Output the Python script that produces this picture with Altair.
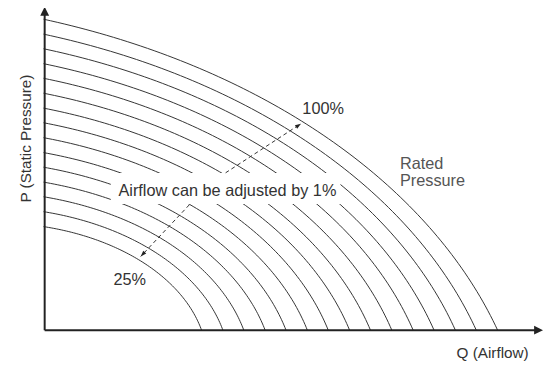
import altair as alt
import numpy as np
import pandas as pd

# ---- values ----
# Q: airflow in % of rated airflow, P: static pressure in % of rated pressure
q_intercepts = [34.8, 39.5, 44.1, 48.8, 53.4, 58.1, 62.7, 67.4, 72.0, 76.7, 81.4, 86.0, 90.7, 95.3, 100.0]
p_intercepts = [33.3, 38.1, 42.9, 47.6, 52.4, 57.1, 61.9, 66.7, 71.4, 76.2, 81.0, 85.7, 90.5, 95.2, 100.0]
# bulge of each curve (offset of the arc centre in normalised units), inner -> outer
bulge = [0.310, 0.321, 0.332, 0.344, 0.355, 0.366, 0.377, 0.389, 0.400, 0.411, 0.422, 0.433, 0.445, 0.456, 0.467]

# dashed arrows (start Q, start P, end Q, end P)
arrow_q0 = [40.1, 32.1]
arrow_p0 = [50.6, 40.3]
arrow_q1 = [56.7, 21.4]
arrow_p1 = [66.4, 23.7]

# white label box behind the centre text
box_q = [14.8, 65.4]
box_p = [40.6, 50.5]

label_text = ["100%", "25%", "Airflow can be adjusted by 1%"]
label_q = [57.0, 15.4, 16.5]
label_p = [69.4, 14.4, 43.0]

rated_text = ["Rated\nPressure"]
rated_q = [78.5]
rated_p = [51.7]

X_MAX, Y_MAX = 110.0, 102.857
W, H = 506, 324
PX_Q, PX_P = W / X_MAX, H / Y_MAX
FONT = "Liberation Sans"

# ---- build curve table ----
rows = []
for i, (q0, p0, c) in enumerate(zip(q_intercepts, p_intercepts, bulge)):
    r = np.sqrt(c ** 2 + (1 + c) ** 2)
    t0, t1 = np.arctan2(c, 1 + c), np.arctan2(1 + c, c)
    for k, t in enumerate(np.linspace(t0, t1, 90)):
        rows.append({"curve": i, "k": k,
                     "Q": (-c + r * np.cos(t)) * q0,
                     "P": (-c + r * np.sin(t)) * p0})
curves_df = pd.DataFrame(rows)

xs = alt.Scale(domain=[0, X_MAX], nice=False, zero=False)
ys = alt.Scale(domain=[0, Y_MAX], nice=False, zero=False)
x_axis = alt.Axis(title="Q (Airflow)", domain=False, ticks=False, labels=False, grid=False,
                  titleFont=FONT, titleFontSize=15.5, titleFontWeight="normal", titleColor="#333333",
                  titleX=491, titleY=28, titleAlign="right", titleBaseline="alphabetic")
y_axis = alt.Axis(title="P (Static Pressure)", domain=False, ticks=False, labels=False, grid=False,
                  titleFont=FONT, titleFontSize=15.5, titleFontWeight="normal", titleColor="#333333",
                  titleX=-13.5, titleY=129.5, titleAngle=270, titleAlign="center",
                  titleBaseline="alphabetic")


def X(field="Q"):
    return alt.X(f"{field}:Q", scale=xs, axis=x_axis)


def Y(field="P"):
    return alt.Y(f"{field}:Q", scale=ys, axis=y_axis)


curves = alt.Chart(curves_df).mark_line(color="#333333", strokeWidth=1).encode(
    x=X(), y=Y(), detail="curve:N", order="k:Q")

box_df = pd.DataFrame({"Q": [box_q[0]], "Q2": [box_q[1]], "P": [box_p[0]], "P2": [box_p[1]]})
box = alt.Chart(box_df).mark_rect(color="white").encode(
    x=X(), x2="Q2:Q", y=Y(), y2="P2:Q")

dash_df = pd.DataFrame({"Q": arrow_q0, "P": arrow_p0, "Q2": arrow_q1, "P2": arrow_p1})
dashes = alt.Chart(dash_df).mark_rule(color="#333333", strokeWidth=1, strokeDash=[4, 3]).encode(
    x=X(), y=Y(), x2="Q2:Q", y2="P2:Q")

head_ang = []
for q0, p0, q1, p1 in zip(arrow_q0, arrow_p0, arrow_q1, arrow_p1):
    dx = (q1 - q0) * PX_Q
    dy = -(p1 - p0) * PX_P
    head_ang.append(float(np.degrees(np.arctan2(dx, -dy)) % 360))
head_df = pd.DataFrame({"Q": arrow_q1, "P": arrow_p1, "ang": head_ang})
heads = alt.Chart(head_df).mark_point(shape="M0,0L0.7,2L-0.7,2Z", filled=True, size=36,
                                      color="#222222", opacity=1, strokeWidth=0).encode(
    x=X(), y=Y(), angle=alt.Angle("ang:Q", scale=None))

# axes with arrows
axis_df = pd.DataFrame({"Q": [0.25, 0.25], "P": [0.0, 0.0], "Q2": [0.25, 108.5], "P2": [101.5, 0.0]})
axis_lines = alt.Chart(axis_df).mark_rule(color="#222222", strokeWidth=2).encode(
    x=X(), y=Y(), x2="Q2:Q", y2="P2:Q")
axis_head_df = pd.DataFrame({"Q": [0.25, X_MAX], "P": [104.0, 0.0], "ang": [0.0, 90.0]})
axis_heads = alt.Chart(axis_head_df).mark_point(shape="M0,0L1,2L-1,2Z", filled=True, size=81,
                                                color="#222222", opacity=1, strokeWidth=0).encode(
    x=X(), y=Y(), angle=alt.Angle("ang:Q", scale=None))

labels_df = pd.DataFrame({"Q": label_q, "P": label_p, "text": label_text})
labels = alt.Chart(labels_df).mark_text(align="left", baseline="alphabetic", font=FONT,
                                        fontSize=16.5, color="#333333").encode(
    x=X(), y=Y(), text="text:N")

rated_df = pd.DataFrame({"Q": rated_q, "P": rated_p, "text": rated_text})
rated = alt.Chart(rated_df).mark_text(align="left", baseline="alphabetic", font=FONT,
                                      fontSize=16.5, color="#555555", lineBreak="\n",
                                      lineHeight=17).encode(
    x=X(), y=Y(), text="text:N")

chart = alt.layer(curves, box, dashes, heads, axis_lines, axis_heads, labels, rated).properties(
    width=W, height=H,
    autosize=alt.AutoSizeParams(type="none"),
    padding={"left": 36, "top": 0, "right": 0, "bottom": 36},
).configure_view(stroke=None)

chart.save("out.html", embed_options={"renderer": "svg", "actions": False})
